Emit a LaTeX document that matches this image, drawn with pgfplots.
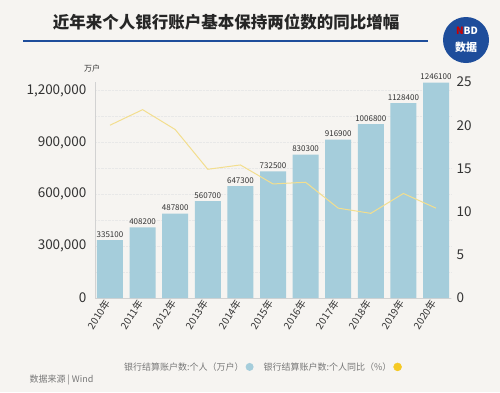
\documentclass[border=0pt]{standalone}
\usepackage{pgfplots}
\pgfplotsset{compat=1.18}
\usepackage{fontspec}
\setmainfont{Noto Sans CJK SC}
\definecolor{bgc}{HTML}{F6F4F1}
\definecolor{titleblue}{HTML}{1E4D9B}
\definecolor{barblue}{HTML}{A5CDDB}
\definecolor{lineyellow}{HTML}{F3DE8E}
\definecolor{legyellow}{HTML}{F5C924}
\definecolor{txt}{HTML}{333333}
\definecolor{ltxt}{HTML}{777777}
\begin{document}
\begin{tikzpicture}
\fill[bgc] (0,0) rectangle (500pt,-392pt);
\useasboundingbox (0,0) rectangle (500pt,-392pt);
\node[font=\bfseries\fontsize{16.5}{18}\selectfont, text=black!85] at (226pt,-22pt) {近年来个人银行账户基本保持两位数的同比增幅};
\draw[titleblue, line width=2pt] (23pt,-41pt) -- (428pt,-41pt);
\fill[titleblue] (466pt,-40pt) circle (23pt);
\node[white, font=\bfseries\fontsize{10}{10}\selectfont] at (467pt,-31pt) {{\color{red!80!black}N}BD};
\node[white, font=\bfseries\fontsize{11}{11}\selectfont] at (466pt,-47pt) {数据};
\node[font=\fontsize{8}{8}\selectfont, text=txt] at (92pt,-68pt) {万户};
\node[anchor=west, font=\fontsize{9}{9}\selectfont, text=ltxt] at (26pt,-380pt) {数据来源 | Wind};
\begin{axis}[
  at={(95pt,-298pt)}, anchor=south west,
  scale only axis, width=356pt, height=216pt,
  xmin=-0.46, xmax=10.46, ymin=0, ymax=1250000,
  axis y line*=left, axis x line*=bottom,
  axis line style={draw=gray!35},
  xtick={0,...,10},
  xticklabels={2010年,2011年,2012年,2013年,2014年,2015年,2016年,2017年,2018年,2019年,2020年},
  x tick label style={rotate=57, anchor=east, font=\fontsize{10}{10}\selectfont, text=txt},
  ytick={0,300000,600000,900000,1200000},
  minor ytick={150000,450000,750000,1050000},
  yticklabel style={xshift=-5pt, font=\fontsize{13.5}{13.5}\selectfont, text=txt, /pgf/number format/fixed, /pgf/number format/1000 sep={,}, /pgf/number format/assume math mode=true},
  scaled y ticks=false,
  major tick length=0pt, minor tick length=0pt,
  ymajorgrids, yminorgrids,
  grid style={gray!18, densely dotted},
  legend style={draw=none, fill=none, at={(0.469,-0.319)}, anchor=center, legend columns=2, font=\fontsize{9}{10}\selectfont, text=ltxt, /tikz/every even column/.append style={column sep=8pt}},
  legend plot pos=right,
]
\addplot[ybar, bar width=26pt, fill=barblue, draw=none,
  point meta=explicit symbolic,
  nodes near coords, nodes near coords style={font=\fontsize{8}{8}\selectfont, text=txt, inner sep=2.5pt},
  legend image code/.code={\fill[barblue] (4pt,0) circle (4pt);}]
  table[meta=l] {
x y l
0 335100 335100
1 408200 408200
2 487800 487800
3 560700 560700
4 647300 647300
5 732500 732500
6 830300 830300
7 916900 916900
8 1006800 1006800
9 1128400 1128400
10 1246100 1246100
};
\addlegendentry{银行结算账户数:个人（万户）}
\addlegendimage{legend image code/.code={\fill[legyellow] (4pt,0) circle (4pt);}}
\addlegendentry{银行结算账户数:个人同比（\%）}
\end{axis}
\begin{axis}[
  at={(95pt,-298pt)}, anchor=south west,
  scale only axis, width=356pt, height=216pt,
  xmin=-0.46, xmax=10.46, ymin=0, ymax=25,
  axis y line*=right, axis x line=none,
  y axis line style={draw=none},
  ytick={0,5,...,25},
  yticklabel style={xshift=2pt, font=\fontsize{13.5}{13.5}\selectfont, text=txt, /pgf/number format/assume math mode=true},
  major tick length=0pt,
]
\addplot[lineyellow, line width=1pt] coordinates {
(0,20.0) (1,21.8) (2,19.5) (3,14.9) (4,15.4) (5,13.2) (6,13.4) (7,10.4) (8,9.8) (9,12.1) (10,10.4)
};
\end{axis}
\end{tikzpicture}
\end{document}
